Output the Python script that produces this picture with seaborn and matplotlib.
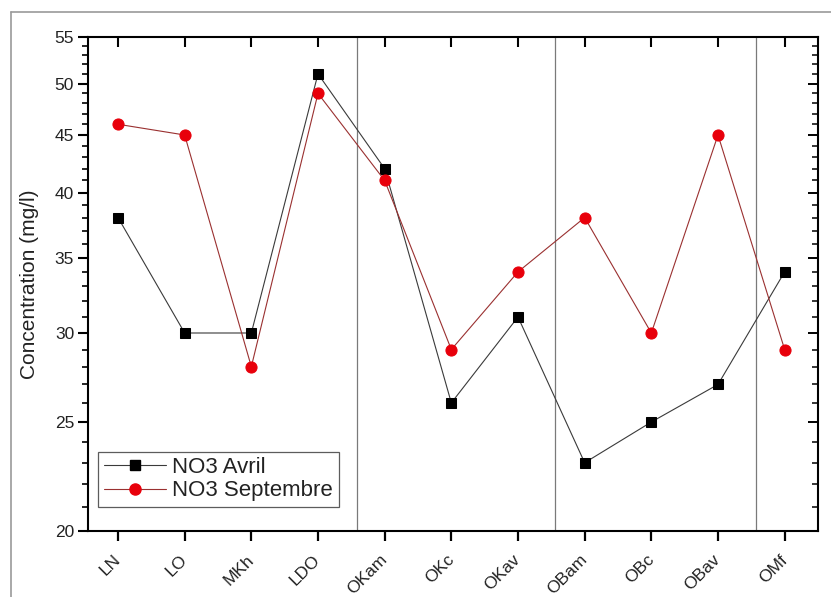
import matplotlib
matplotlib.use("Agg")
import matplotlib.pyplot as plt
import seaborn as sns
import pandas as pd
import numpy as np
from matplotlib.ticker import FixedLocator, NullFormatter, FixedFormatter
from matplotlib.lines import Line2D

sites = ["LN", "LO", "MKh", "LDO", "OKam", "OKc", "OKav", "OBam", "OBc", "OBav", "OMf"]
no3_avril = [38, 30, 30, 51, 42, 26, 31, 23, 25, 27, 34]
no3_septembre = [46, 45, 28, 49, 41, 29, 34, 38, 30, 45, 29]
series_names = ["NO3 Avril", "NO3 Septembre"]
y_major = [20, 25, 30, 35, 40, 45, 50, 55]
y_minor = list(range(20, 56))
separators = [3.58, 6.55, 9.57]

sns.set_style("white")
plt.rcParams["font.family"] = ["Liberation Sans", "DejaVu Sans"]
plt.rcParams["ytick.left"] = True
plt.rcParams["xtick.bottom"] = True
plt.rcParams["xtick.color"] = "black"
plt.rcParams["ytick.color"] = "black"

W, H = 831, 597
rect = [88 / W, 1 - 531 / H, (818 - 88) / W, (531 - 37) / H]
fig = plt.figure(figsize=(W / 100, H / 100), dpi=100)
ax = fig.add_axes(rect)

xpos = np.arange(len(sites))
df_a = pd.DataFrame({"x": xpos, "y": no3_avril})
df_s = pd.DataFrame({"x": xpos, "y": no3_septembre})

sns.lineplot(data=df_a, x="x", y="y", ax=ax, color="#3a3a3a", lw=0.8,
             marker="s", markersize=7, markerfacecolor="black",
             markeredgecolor="black", zorder=3)
sns.lineplot(data=df_s, x="x", y="y", ax=ax, color="#9a3030", lw=0.8,
             marker="o", markersize=8, markerfacecolor="#e8000b",
             markeredgecolor="#e8000b", zorder=3)

for s in separators:
    ax.axvline(s, color="#7a7a7a", lw=0.9, zorder=1)

ylim = (20, 55)
xlim = (-0.45, 10.5)
ax.set_yscale("log")
ax.set_ylim(*ylim)
ax.set_xlim(*xlim)
ax.yaxis.set_major_locator(FixedLocator(y_major))
ax.yaxis.set_major_formatter(FixedFormatter([str(v) for v in y_major]))
ax.yaxis.set_minor_locator(FixedLocator(y_minor))
ax.yaxis.set_minor_formatter(NullFormatter())
ax.set_xticks(xpos)
ax.set_xticklabels(sites, rotation=45, ha="right", rotation_mode="anchor", va="center")

ax.tick_params(axis="x", which="major", direction="out", length=7, width=1.6,
               labelsize=12.5, pad=12, bottom=True, top=False)
ax.tick_params(axis="y", which="major", direction="out", length=7, width=1.5,
               labelsize=12.5, pad=3, left=True, right=False)
ax.tick_params(axis="y", which="minor", direction="out", length=4, width=1.2,
               left=True, right=False)
for lab in ax.get_xticklabels() + ax.get_yticklabels():
    lab.set_color("#222222")

ax.set_xlabel("")
ax.set_ylabel("Concentration (mg/l)", fontsize=15, color="#222222", labelpad=11)
for sp in ax.spines.values():
    sp.set_visible(True)
    sp.set_color("black")
    sp.set_linewidth(1.5)

# overlay axes carrying the inward mirrored ticks (top and right)
axo = fig.add_axes(rect)
axo.patch.set_visible(False)
axo.set_yscale("log")
axo.set_ylim(*ylim)
axo.set_xlim(*xlim)
axo.yaxis.tick_right()
axo.xaxis.tick_top()
axo.yaxis.set_major_locator(FixedLocator(y_major))
axo.yaxis.set_minor_locator(FixedLocator(y_minor))
axo.yaxis.set_major_formatter(NullFormatter())
axo.yaxis.set_minor_formatter(NullFormatter())
axo.set_xticks(xpos)
axo.xaxis.set_major_formatter(NullFormatter())
axo.tick_params(axis="y", which="major", direction="in", length=7, width=1.4,
                right=True, left=False, labelleft=False, labelright=False)
axo.tick_params(axis="y", which="minor", direction="in", length=4, width=1.1,
                right=True, left=False)
axo.tick_params(axis="x", which="major", direction="in", length=7, width=1.5,
                top=True, bottom=False, labelbottom=False, labeltop=False)
axo.grid(False)
for sp in axo.spines.values():
    sp.set_visible(False)

handles = [
    Line2D([], [], color="#3a3a3a", lw=0.8, marker="s", markersize=7,
           markerfacecolor="black", markeredgecolor="black"),
    Line2D([], [], color="#9a3030", lw=0.8, marker="o", markersize=8,
           markerfacecolor="#e8000b", markeredgecolor="#e8000b"),
]
leg = axo.legend(handles, series_names, loc="lower left",
                 bbox_to_anchor=((98 - 88) / 730, (531 - 507) / 494),
                 fontsize=16, frameon=True, fancybox=False, borderpad=0.25,
                 handlelength=2.8, handletextpad=0.3, labelspacing=0.1,
                 borderaxespad=0)
leg.get_frame().set_edgecolor("#333333")
leg.get_frame().set_linewidth(0.9)
for t in leg.get_texts():
    t.set_color("#222222")

# outer frame lines (top and left)
fig.add_artist(Line2D([11 / W, 11 / W], [0, 1 - 12 / H], transform=fig.transFigure,
                      color="#9a9a9a", lw=1.2))
fig.add_artist(Line2D([11 / W, 1], [1 - 12 / H, 1 - 12 / H], transform=fig.transFigure,
                      color="#9a9a9a", lw=1.2))

fig.savefig("out.png", dpi=100)
